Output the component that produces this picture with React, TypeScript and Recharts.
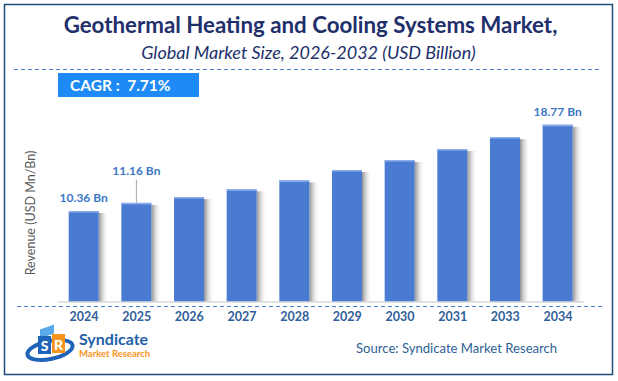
import React from 'react';
import { BarChart, Bar, XAxis, YAxis, LabelList } from 'recharts';

const years = ['2024', '2025', '2026', '2027', '2028', '2029', '2030', '2031', '2033', '2034'];
const revenue = [10.36, 11.16, 11.72, 12.48, 13.35, 14.36, 15.33, 16.4, 17.57, 18.77];
const valueLabels = ['10.36 Bn', '11.16 Bn', '', '', '', '', '', '', '', '18.77 Bn'];
const titleText = 'Geothermal Heating and Cooling Systems Market,';
const subtitleText = 'Global Market Size, 2026-2032 (USD Billion)';
const cagrText = 'CAGR :  7.71%';
const yAxisTitle = 'Revenue (USD Mn/Bn)';
const sourceText = 'Source: Syndicate Market Research';

const data = years.map((year, i) => ({ year, revenue: revenue[i], label: valueLabels[i] }));

const FONT = 'Lato, "Open Sans", sans-serif';
const BAR_COLOR = '#4a7bd2';
const LEADER_INDEX = 1;

const BarShape = (props: any) => {
  const { x, y, width, height, index } = props;
  if (height <= 0) return null;
  const gid = `shadow-${index}`;
  return (
    <g>
      <defs>
        <linearGradient id={gid} x1="0" y1="0" x2="1" y2="0">
          <stop offset="0%" stopColor="#7d7d7d" stopOpacity={0.85} />
          <stop offset="100%" stopColor="#ffffff" stopOpacity={0} />
        </linearGradient>
      </defs>
      <rect x={x + width} y={y + 2} width={10} height={height - 2} fill={`url(#${gid})`} />
      <rect x={x} y={y} width={width} height={height} fill={BAR_COLOR} />
      <rect x={x} y={y} width={width} height={1.5} fill="#8fb0ea" />
    </g>
  );
};

const renderLabel = (props: any) => {
  const { x, y, width, value, index } = props;
  if (!value) return null;
  const cx = x + width / 2;
  const lifted = index === LEADER_INDEX;
  const baseline = lifted ? y - 28 : y - 9;
  return (
    <g>
      {lifted && <line x1={cx} x2={cx} y1={y - 23} y2={y} stroke="#a6a6a6" strokeWidth={1} />}
      <text x={cx} y={baseline} textAnchor="middle" fill="#3b78c6" fontFamily={FONT} fontWeight={700} fontSize={12}>
        {value}
      </text>
    </g>
  );
};

const Logo = () => (
  <g>
    <ellipse cx={50} cy={350} rx={23} ry={9} fill="none" stroke="#1f64b8" strokeWidth={4} transform="rotate(-12 50 350)" />
    <rect x={40} y={327} width={14} height={9} fill="#5aa9ea" transform="skewY(-20)" style={{ transformOrigin: '47px 331px' }} />
    <rect x={38} y={336} width={13} height={18} fill="#1f64b8" />
    <text x={44.5} y={351} textAnchor="middle" fill="#ffffff" fontFamily={FONT} fontWeight={900} fontSize={14}>S</text>
    <rect x={52} y={334} width={13} height={19} fill="#f7941d" />
    <text x={58.5} y={350} textAnchor="middle" fill="#ffffff" fontFamily={FONT} fontWeight={900} fontSize={14}>R</text>
    <text x={79} y={345} fill="#1f5fa8" fontFamily={FONT} fontWeight={700} fontSize={16}>Syndicate</text>
    <text x={79} y={356.5} fill="#f7941d" fontFamily={FONT} fontWeight={700} fontSize={9.5}>Market Research</text>
  </g>
);

export default function App() {
  return (
    <div style={{ position: 'fixed', left: 0, top: 0, width: 618, height: 381, background: '#ffffff' }}>
      <div style={{ position: 'absolute', left: 0, top: 0 }}>
        <BarChart
          width={618}
          height={381}
          data={data}
          margin={{ top: 107, right: 33.7, bottom: 49, left: 57.7 }}
          barSize={30}
        >
          <YAxis hide domain={[1.5, 20.5]} />
          <XAxis
            dataKey="year"
            interval={0}
            height={30}
            tickLine={false}
            tickMargin={4.5}
            axisLine={{ stroke: '#d9d9d9', strokeWidth: 1.5 }}
            tick={{ fill: '#2f5f9a', fontSize: 12.5, fontWeight: 700, fontFamily: FONT }}
          />
          <Bar dataKey="revenue" shape={<BarShape />} isAnimationActive={false}>
            <LabelList dataKey="label" content={renderLabel} />
          </Bar>
        </BarChart>
      </div>
      <svg width={618} height={381} style={{ position: 'absolute', left: 0, top: 0, pointerEvents: 'none' }}>
        <rect x={4.5} y={4.5} width={608} height={370} fill="none" stroke="#1f4e79" strokeWidth={1.5} />
        <text x={310.5} y={32.5} textAnchor="middle" fill="#212f6b" fontFamily={FONT} fontWeight={700} fontSize={22.3}>
          {titleText}
        </text>
        <text x={308.5} y={58.5} textAnchor="middle" fill="#212f6b" fontFamily={FONT} fontStyle="italic" fontSize={18}>
          {subtitleText}
        </text>
        <line x1={14} x2={600} y1={69.5} y2={69.5} stroke="#4a7bd2" strokeWidth={1} strokeDasharray="4 3" />
        <rect x={58} y={73} width={141} height={24} fill="#1e8af5" />
        <text x={70} y={91} fill="#ffffff" fontFamily={FONT} fontWeight={700} fontSize={15.5} style={{ whiteSpace: 'pre' }}>
          {cagrText}
        </text>
        <line x1={17} x2={602} y1={306.5} y2={306.5} stroke="#4a7bd2" strokeWidth={1} strokeDasharray="4 3" />
        <text
          x={30}
          y={213}
          transform="rotate(-90 30 213)"
          textAnchor="middle"
          dominantBaseline="central"
          fill="#595959"
          fontFamily={FONT}
          fontSize={12.5}
        >
          {yAxisTitle}
        </text>
        <Logo />
        <text x={356} y={353} fill="#2e5f96" fontFamily={FONT} fontSize={13.1}>
          {sourceText}
        </text>
      </svg>
    </div>
  );
}
